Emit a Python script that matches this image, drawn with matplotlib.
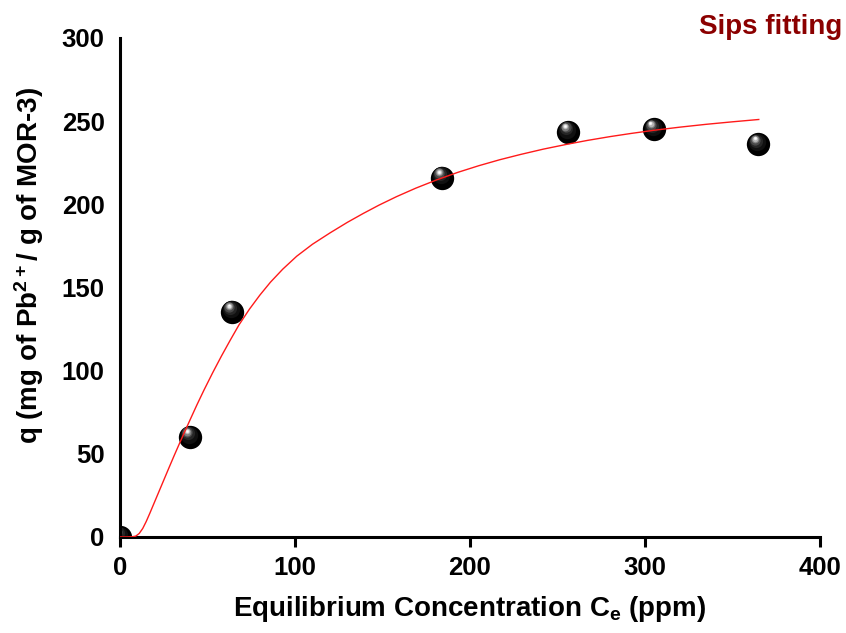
import numpy as np
import matplotlib
matplotlib.use("Agg")
import matplotlib.pyplot as plt
from matplotlib.transforms import offset_copy

plt.rcParams['font.family'] = ['Liberation Sans', 'DejaVu Sans']
plt.rcParams['font.weight'] = 'bold'
plt.rcParams['axes.labelweight'] = 'bold'
plt.rcParams['mathtext.fontset'] = 'custom'
plt.rcParams['mathtext.rm'] = 'Liberation Sans:bold'
plt.rcParams['mathtext.bf'] = 'Liberation Sans:bold'
plt.rcParams['mathtext.default'] = 'bf'

# measured points
ce = [0, 40, 64, 184, 256, 305, 364.5]
qe = [0, 60, 135.5, 216, 243.5, 245, 236]

# Sips fit curve
fit_x = [0, 4, 7, 9, 11, 13, 15, 17, 19, 22, 25, 28, 31, 35, 40, 44, 48, 53, 58, 63, 68, 74, 80,
         86, 93, 101, 110, 120, 130, 139, 148, 158, 169, 181, 193, 205, 217, 229, 242, 255, 267,
         280, 292, 305, 320, 335, 350, 365]
fit_y = [0, 0, 0.1, 0.5, 2.1, 5.1, 9.3, 14.1, 19.1, 26.6, 34.1, 41.6, 49, 58.6, 70.3, 79.5, 88.3,
         98.8, 108.8, 118.3, 127.5, 137, 145.5, 153.2, 161, 168.8, 176, 182.8, 189.2, 194.5, 199.5,
         204.6, 209.7, 214.7, 219.2, 223.2, 226.8, 230, 233.2, 236, 238.4, 240.7, 242.6, 244.5,
         246.4, 248.1, 249.6, 251]

xticks = [0, 100, 200, 300, 400]
yticks = [0, 50, 100, 150, 200, 250, 300]

fig = plt.figure(figsize=(8.46, 6.33), dpi=100)
ax = fig.add_axes([0.1418, 0.1517, 0.8275, 0.7883])

# shaded spheres: stack of circles getting lighter towards upper-left
shades = [(16.8, '#000000', 0, 0), (12.5, '#101010', -0.8, 1.6), (9.5, '#262626', -1.4, 2.7),
          (7.4, '#4a4a4a', -1.8, 3.4), (5.6, '#7d7d7d', -2.1, 3.9), (4.0, '#b4b4b4', -2.3, 4.2),
          (2.6, '#e6e6e6', -2.4, 4.3), (1.4, '#ffffff', -2.4, 4.4)]
for ms, col, dx, dy in shades:
    tr = offset_copy(ax.transData, fig=fig, x=dx, y=dy, units='points')
    ax.plot(ce, qe, 'o', ms=ms, color=col, mec='none', transform=tr, zorder=2)

ax.plot(fit_x, fit_y, color='#ff1a1a', lw=1.0, zorder=3)

ax.set_xlim(0, 400)
ax.set_ylim(0, 300)
ax.set_xticks(xticks)
ax.set_yticks(yticks)
for s in ['top', 'right']:
    ax.spines[s].set_visible(False)
for s in ['left', 'bottom']:
    ax.spines[s].set_linewidth(2.2)
ax.tick_params(axis='x', direction='out', length=7, width=2.2, labelsize=18.5, pad=7)
ax.tick_params(axis='y', length=0, labelsize=18.5, pad=11)

ax.set_xlabel('Equilibrium Concentration C$_e$ (ppm)', fontsize=20, labelpad=10)
ax.set_ylabel('q (mg of Pb$^{2+}$/ g of MOR-3)', fontsize=20, labelpad=13)
ax.yaxis.set_label_coords(-0.106, 0.545)

fig.text(0.995, 0.957, 'Sips fitting', color='#8b0000', fontsize=20, ha='right', va='center',
         fontweight='bold')

fig.savefig('out.png', dpi=100)
